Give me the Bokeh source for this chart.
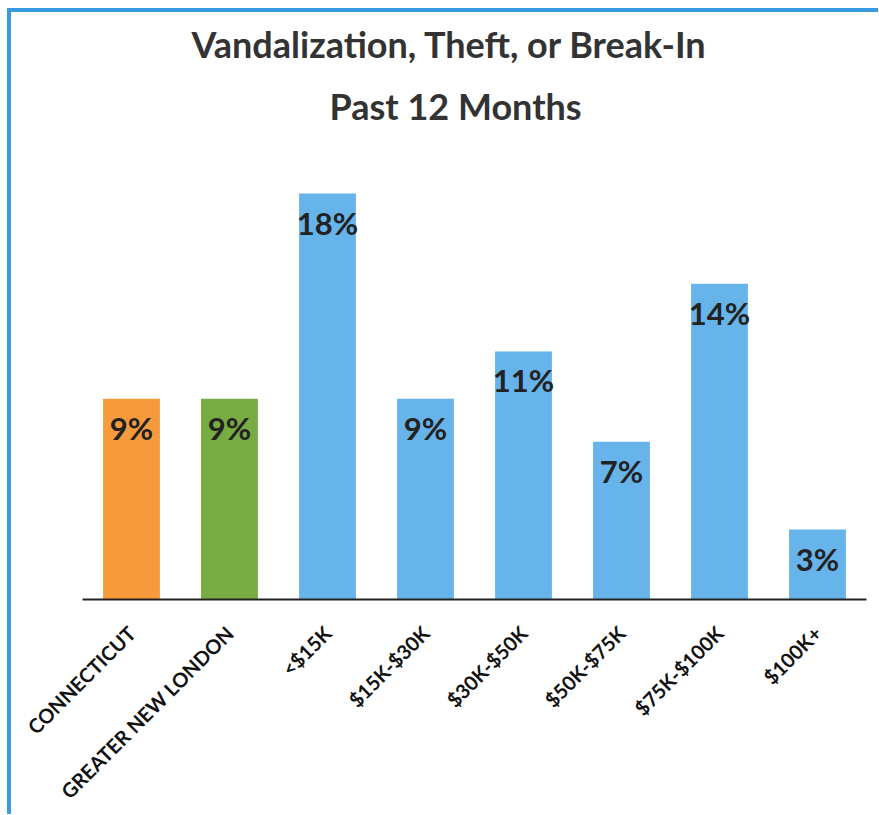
from math import pi
from bokeh.plotting import figure
from bokeh.models import ColumnDataSource, LabelSet, Range1d, FactorRange, Title
from bokeh.core.properties import value
from bokeh.embed import file_html
from bokeh.resources import INLINE

categories = ["CONNECTICUT", "GREATER NEW LONDON", "<$15K", "$15K-$30K",
              "$30K-$50K", "$50K-$75K", "$75K-$100K", "$100K+"]
values = [8.9, 8.9, 18.0, 8.9, 11.0, 7.0, 14.0, 3.1]
labels = ["9%", "9%", "18%", "9%", "11%", "7%", "14%", "3%"]
colors = ["#F79A3C", "#77AC42", "#66B4EA", "#66B4EA", "#66B4EA", "#66B4EA", "#66B4EA", "#66B4EA"]
title_lines = ["Vandalization, Theft, or Break-In", "Past 12 Months"]

src = ColumnDataSource(dict(cat=categories, val=values, lab=labels, col=colors))

FONT = "Lato"

p = figure(x_range=FactorRange(*categories, range_padding=0), y_range=Range1d(0, 20),
           frame_width=784, frame_height=451, output_backend="svg", toolbar_location=None,
           min_border_left=71, min_border_right=12, min_border_top=136, min_border_bottom=212,
           background_fill_color="white", border_fill_color="white")
p.styles = {"margin-left": "7px", "margin-top": "8px",
            "border-left": "4px solid #3A9BE2", "border-top": "4px solid #3A9BE2"}

p.title.text = title_lines[0]
p.title.align = "left"
p.title.offset = 109
p.title.text_font = FONT
p.title.text_font_size = "36px"
p.title.text_color = "#333333"
p.title.text_font_style = "bold"
p.title.standoff = 0
t2 = Title(text=title_lines[1], align="left", offset=247, text_font=FONT,
           text_font_size="36px", text_color="#333333", text_font_style="bold",
           vertical_align="top", standoff=37)
p.add_layout(t2, "above")

p.vbar(x="cat", top="val", width=0.58, color="col", source=src, line_color=None)

p.add_layout(LabelSet(x="cat", y="val", text="lab", source=src, y_offset=-10,
                      text_align="center", text_baseline="top", text_font=value(FONT),
                      text_font_size="31px", text_font_style="bold", text_color="#222222"))

p.xgrid.visible = False
p.ygrid.visible = False
p.yaxis.visible = False
p.outline_line_color = None
p.xaxis.axis_line_color = "#222222"
p.xaxis.axis_line_width = 2
p.xaxis.major_tick_line_color = None
p.xaxis.minor_tick_line_color = None
p.xaxis.major_label_orientation = pi / 4
p.xaxis.major_label_text_font = FONT
p.xaxis.major_label_text_font_size = "20px"
p.xaxis.major_label_text_font_style = "bold"
p.xaxis.major_label_text_color = "#111111"
p.xaxis.major_label_standoff = 24

open("out.html", "w").write(file_html(p, INLINE))
